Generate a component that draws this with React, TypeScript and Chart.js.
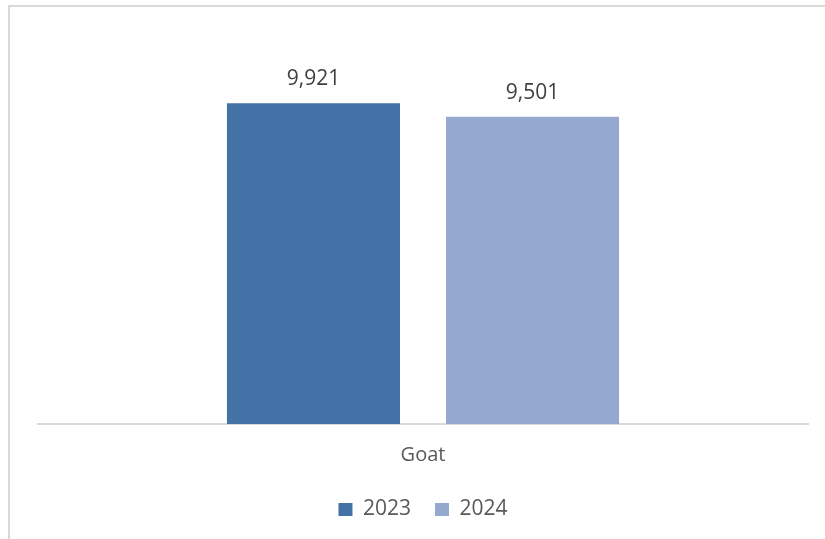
import React, { useEffect, useRef } from "react";
import { Chart, registerables } from "chart.js";

Chart.register(...registerables);

const categories = ["Goat"];
const seriesLabels = ["2023", "2024"];
const values2023 = [9921];
const values2024 = [9501];
const seriesColors = ["#4572A6", "#95A9D0"];
const yMax = 12000;

const FONT = "'Open Sans', 'Noto Sans', sans-serif";

const dataLabelPlugin = {
  id: "dataLabels",
  afterDatasetsDraw(chart: any) {
    const ctx = chart.ctx;
    ctx.save();
    ctx.font = `21px ${FONT}`;
    ctx.fillStyle = "#404040";
    ctx.textAlign = "center";
    ctx.textBaseline = "middle";
    chart.data.datasets.forEach((ds: any, i: number) => {
      const meta = chart.getDatasetMeta(i);
      meta.data.forEach((bar: any, j: number) => {
        const v = ds.data[j];
        ctx.fillText(v.toLocaleString("en-US"), bar.x, bar.y - 24);
      });
    });
    ctx.restore();
  },
};

export default function App() {
  const ref = useRef<HTMLCanvasElement | null>(null);
  useEffect(() => {
    document.body.style.overflow = "hidden";
    document.documentElement.style.overflow = "hidden";
    const chart = new Chart(ref.current!, {
      type: "bar",
      data: {
        labels: categories,
        datasets: [
          { label: seriesLabels[0], data: values2023, backgroundColor: seriesColors[0] },
          { label: seriesLabels[1], data: values2024, backgroundColor: seriesColors[1] },
        ],
      },
      options: {
        responsive: false,
        animation: false,
        devicePixelRatio: 1,
        datasets: { bar: { categoryPercentage: 0.569, barPercentage: 0.79 } },
        layout: { padding: { left: 28, right: 17, top: 29, bottom: 9 } },
        scales: {
          x: {
            grid: { display: false, drawTicks: false },
            border: { display: true, color: "#D9D9D9", width: 2 },
            ticks: { font: { family: FONT, size: 20 }, color: "#595959", padding: 19 },
            afterFit: (scale: any) => {
              scale.height = 51;
            },
          },
          y: {
            display: false,
            min: 0,
            max: yMax,
          },
        },
        plugins: {
          legend: {
            position: "bottom",
            labels: {
              boxWidth: 14,
              boxHeight: 13,
              padding: 24,
              color: "#595959",
              font: { family: FONT, size: 21 },
            },
          },
          tooltip: { enabled: false },
        },
      },
      plugins: [dataLabelPlugin],
    });
    return () => chart.destroy();
  }, []);
  return (
    <div
      style={{
        position: "absolute",
        left: 8,
        top: 5,
        width: 817,
        height: 534,
        borderTop: "2px solid #D9D9D9",
        borderLeft: "2px solid #D9D9D9",
        background: "#fff",
      }}
    >
      <canvas ref={ref} width={815} height={532} style={{ display: "block" }} />
    </div>
  );
}
